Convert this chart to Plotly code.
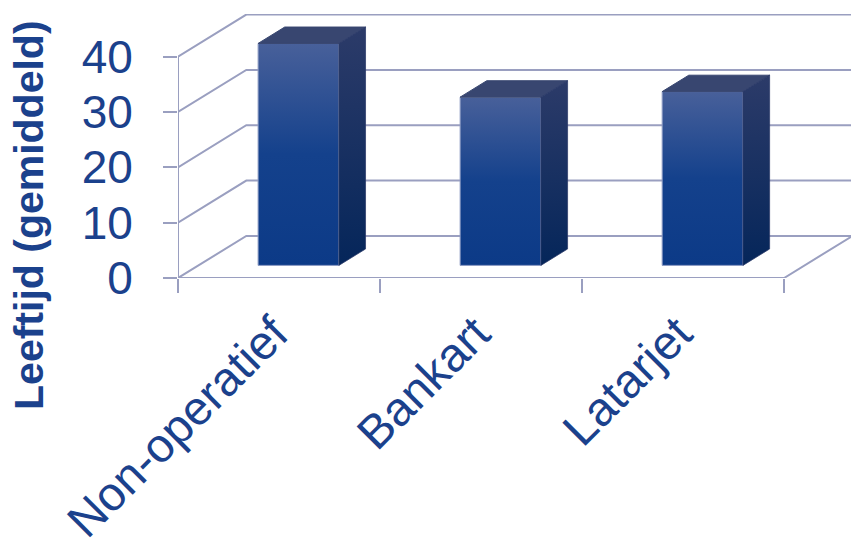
import plotly.graph_objects as go

# Chart data
categories = ["Non-operatief", "Bankart", "Latarjet"]
mean_age = [40.1, 30.4, 31.4]
y_ticks = [0, 10, 20, 30, 40]
y_title = "Leeftijd (gemiddeld)"

# Oblique projection of the box: one unit of depth moves a point by this much on the axes
DEPTH_X = 0.338
DEPTH_Y = 7.6
X_END = 3.0

BAR_LEFT, BAR_RIGHT = 0.295, 0.695
BAR_NEAR, BAR_FAR = 0.30, 0.69

GRID = "#9a9fc0"
INK = "#1b418c"


def project(x, y, z):
    return x + z * DEPTH_X, y + z * DEPTH_Y


def polyline(points):
    xy = [project(*p) for p in points]
    return [p[0] for p in xy], [p[1] for p in xy]


def grid_line(points):
    xs, ys = polyline(points)
    return go.Scatter(x=xs, y=ys, mode="lines", line=dict(color=GRID, width=2),
                      hoverinfo="skip", cliponaxis=False)


def face(points, stops, edge):
    xs, ys = polyline(points + points[:1])
    return go.Scatter(
        x=xs, y=ys, mode="lines", fill="toself",
        line=dict(color=edge, width=1),
        fillgradient=dict(type="vertical", colorscale=stops),
        hoverinfo="skip", cliponaxis=False,
    )


fig = go.Figure()

# Wall and floor lines
for v in y_ticks:
    fig.add_trace(grid_line([(0, v, 0), (0, v, 1), (X_END + DEPTH_X, v, 1)]))
fig.add_trace(grid_line([(0, 0, 0), (0, y_ticks[-1], 0)]))
fig.add_trace(grid_line([(0, 0, 0), (X_END, 0, 0), (X_END, 0, 1)]))

# Bars: front, top and side faces
for i, age in enumerate(mean_age):
    l, r = i + BAR_LEFT, i + BAR_RIGHT
    n, f = BAR_NEAR, BAR_FAR
    fig.add_trace(face([(l, 0, n), (r, 0, n), (r, age, n), (l, age, n)],
                       [[0, "#0c3a87"], [0.5, "#14418c"], [1, "#48609a"]], "#8f9dc4"))
    fig.add_trace(face([(l, age, n), (r, age, n), (r, age, f), (l, age, f)],
                       [[0, "#384670"], [1, "#384670"]], "#384670"))
    fig.add_trace(face([(r, 0, n), (r, 0, f), (r, age, f), (r, age, n)],
                       [[0, "#05265a"], [1, "#2c3b69"]], "rgba(44,59,105,0.75)"))

fig.update_layout(
    width=851, height=541,
    margin=dict(l=177.5, r=0, t=14, b=263, autoexpand=False),
    paper_bgcolor="white", plot_bgcolor="white",
    showlegend=False,
    font=dict(family="Liberation Sans", color=INK),
    xaxis=dict(
        range=[0, 3.331], showgrid=False, zeroline=False, showline=False,
        automargin=False,
        tickmode="array", tickvals=[0.5, 1.5, 2.5], ticktext=categories,
        ticks="", tickangle=-45, tickfont=dict(size=47.5, color=INK),
        ticklabelstandoff=17, ticklabelshift=-5,
        minor=dict(tickmode="array", tickvals=[0, 1, 2, 3], ticks="outside",
                   ticklen=14, tickwidth=2, tickcolor=GRID, showgrid=False),
    ),
    yaxis=dict(
        range=[0, 47.7], showgrid=False, zeroline=False, showline=False,
        automargin=False,
        tickmode="array", tickvals=y_ticks,
        ticks="outside", ticklen=14, tickwidth=2, tickcolor=GRID,
        tickfont=dict(size=46, color=INK), ticklabelstandoff=21,
    ),
    annotations=[dict(
        text=f"<b>{y_title}</b>", textangle=-90, showarrow=False,
        xref="paper", yref="paper", x=-0.2215, y=0.2386,
        xanchor="center", yanchor="middle",
        font=dict(size=41, color=INK),
    )],
)

fig.write_html("out.html")
